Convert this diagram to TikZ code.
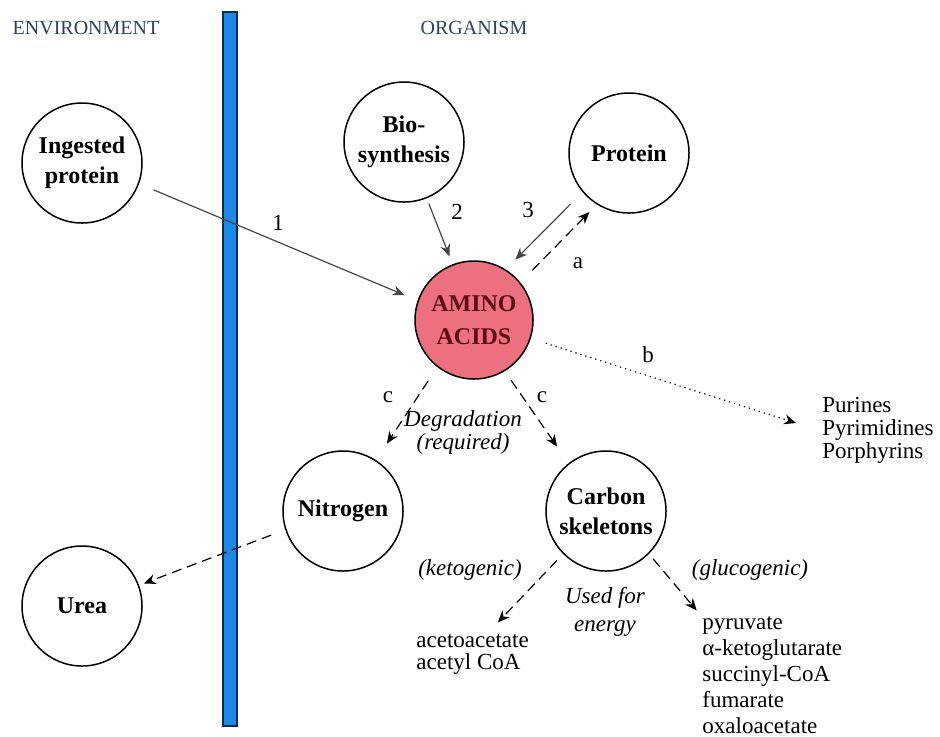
\documentclass[tikz,border=0pt]{standalone}
\usepackage{fontspec}
\setmainfont{Liberation Serif}
\usepackage{xcolor}
\usetikzlibrary{arrows.meta}
\usetikzlibrary{calc}
\definecolor{aminofill}{RGB}{236,112,128}
\definecolor{aminotext}{RGB}{95,10,20}
\definecolor{barblue}{RGB}{30,136,229}
\definecolor{headtext}{RGB}{45,65,100}
\definecolor{linegray}{RGB}{70,70,70}

\begin{document}
\begin{tikzpicture}[x=0.5pt,y=-0.5pt,
		bubble/.style={circle,draw,line width=0.75pt,minimum size=60pt,inner sep=0pt,align=center,
			font=\fontsize{12}{15}\selectfont\bfseries},
		flow/.style={-{Stealth[length=6pt,width=5pt]},line width=0.6pt},
		dashflow/.style={flow,dash pattern=on 5pt off 3pt},
		dotflow/.style={flow,dotted},
		txt/.style={inner sep=2pt,font=\fontsize{11.5}{11.5}\selectfont},
		head/.style={text=headtext,font=\fontsize{10}{12}\selectfont}]
			\useasboundingbox (0,0) rectangle (940,736);
			\draw[fill=barblue,draw={rgb,255:red,20;green,40;blue,80},line width=0.6pt] (223,12) rectangle (237,726);
			\node[head] (env) at (86,28) {ENVIRONMENT};
			\node[head] (org) at (474,28) {ORGANISM};
			\node[bubble] (ingested) at (82,163) {Ingested\\protein};
			\node[bubble] (biosyn) at (404,142) {Bio-\\synthesis};
			\node[bubble] (protein) at (629,153) {Protein};
			\node[bubble,minimum size=59pt,fill=aminofill,text=aminotext,
				font=\fontsize{12}{16.5}\selectfont\bfseries] (amino) at (474,320) {AMINO\\ACIDS};
			\node[bubble] (nitrogen) at (343,511) {Nitrogen};
			\node[bubble] (carbon) at (606,511) {Carbon\\skeletons};
			\node[bubble] (urea) at (82,606) {Urea};
			\node[txt,anchor=west,align=left] (purines) at (818,430) {Purines\\Pyrimidines\\Porphyrins};
			\node[txt,anchor=west,align=left,font=\fontsize{11.5}{11}\selectfont] (aceto) at (412,654) {acetoacetate\\acetyl CoA};
			\node[txt,anchor=west,align=left,font=\fontsize{11.5}{13}\selectfont] (pyruvate) at (698,675) {pyruvate\\α-ketoglutarate\\succinyl-CoA\\fumarate\\oxaloacetate};
			\node[txt,align=center,font=\fontsize{11.5}{11.5}\selectfont\itshape] (degrad) at (463,432) {Degradation\\(required)};
			\node[txt,align=center,font=\fontsize{11.5}{14}\selectfont\itshape] (energy) at (605,612) {Used for\\energy};
			\node[txt,font=\fontsize{11.5}{14}\selectfont\itshape] (keto) at (470,570) {(ketogenic)};
			\node[txt,font=\fontsize{11.5}{14}\selectfont\itshape] (gluco) at (750,570) {(glucogenic)};
			\node[txt] (lbl1) at (278,223) {1};
			\node[txt] (lbl2) at (457,212) {2};
			\node[txt] (lbl3) at (528,210) {3};
			\node[txt] (lbla) at (578,263) {a};
			\node[txt] (lblb) at (648,355) {b};
			\node[txt] (lblcl) at (388,397) {c};
			\node[txt] (lblcr) at (542,397) {c};
			\draw[flow,draw=linegray,shorten <=7.8pt,shorten >=7pt] (ingested.-20) -- (amino.161);
			\draw[flow,draw=linegray,shorten <=2.8pt,shorten >=4.2pt] (biosyn.-68.5) -- (amino.111);
			\draw[flow,draw=linegray,shorten <=8.5pt,shorten >=6.8pt] (protein.220) -- (amino.58.5);
			\draw[dashflow,shorten <=8.5pt,shorten >=5.2pt] (amino.39) -- (protein.238);
			\draw[dotflow,shorten <=7.8pt,shorten >=11.5pt] (amino.-18) -- (purines.west);
			\draw[dashflow,shorten <=8.3pt,shorten >=9.8pt] (amino.232.5) -- (nitrogen.57);
			\draw[dashflow,shorten <=5.5pt,shorten >=10pt] (amino.301) -- (carbon.128);
			\draw[dashflow,shorten <=7.5pt,shorten >=2.5pt] (nitrogen.198.7) -- (urea.20.7);
			\draw[dashflow,shorten <=4.5pt,shorten >=5pt] (carbon.225) -- (aceto.53);
			\draw[dashflow,shorten <=3.2pt,shorten >=1pt] (carbon.-45) -- (pyruvate.north west);
		\end{tikzpicture}
\end{document}
